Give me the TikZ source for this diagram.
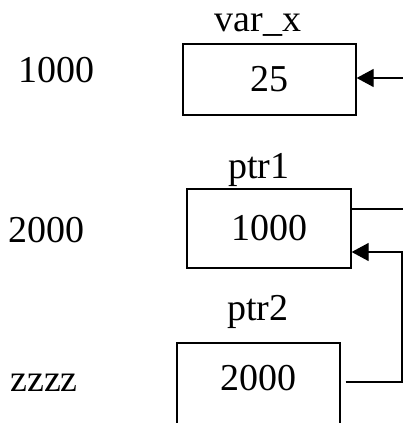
\documentclass[tikz,border=0pt]{standalone}
\usepackage{fontspec}
\setmainfont{Liberation Serif}
\usetikzlibrary{arrows.meta}
\begin{document}
\begin{tikzpicture}[x=1pt,y=-1pt,
  txt/.style={font=\fontsize{38}{40}\selectfont, inner sep=0pt},
  cell/.style={draw, line width=1.3pt, inner sep=0pt, font=\fontsize{38}{40}\selectfont},
  conn/.style={line width=1.3pt},
  arr/.style={line width=1.3pt, -{Triangle[length=17pt,width=18pt]}}]
\useasboundingbox (0,0) rectangle (403,423);
\clip (0,0) rectangle (403,423);
% boxes
\node[cell, minimum width=173pt, minimum height=71pt] (box1) at (269.5,79.5) {25};
\node[cell, minimum width=164pt, minimum height=79pt] (box2) at (269,228.5) {1000};
\node[cell, minimum width=163pt, minimum height=100pt] (box3) at (258.5,393) {};
\node[txt] (v3) at (258,378) {2000};
% names
\node[txt] (n1) at (258,25) {var\_x};
\node[txt] (n2) at (259,170) {ptr1};
\node[txt] (n3) at (258,312) {ptr2};
% addresses
\node[txt] (a1) at (57,70) {1000};
\node[txt] (a2) at (47,230) {2000};
\node[txt] (a3) at (44,383) {zzzz};
% connectors
\coordinate (in1) at (403,78);
\coordinate (out2) at (403,209);
\coordinate (in2) at (402,252);
\coordinate (out3) at (402,382);
\draw[arr] (in1) -- (in1 -| box1.east);
\draw[conn] (out2 -| box2.east) -- (out2);
\draw[arr, shorten <=5pt] (out3 -| box3.east) -- (out3) -- (in2) -- (in2 -| box2.east);
\end{tikzpicture}
\end{document}
